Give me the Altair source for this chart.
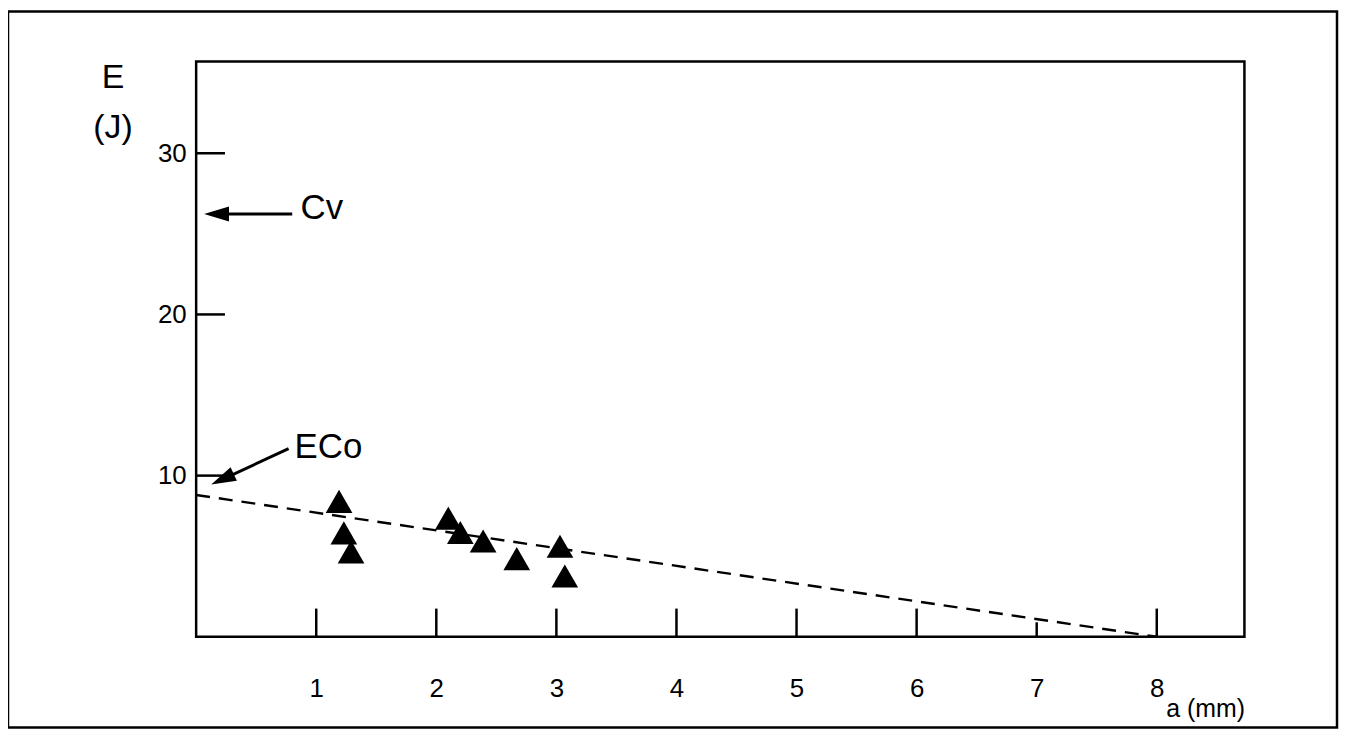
import altair as alt
import pandas as pd

# Measured data (a in mm, E in J)
pts_a = [1.19, 1.23, 1.29, 2.10, 2.20, 2.39, 2.67, 3.03, 3.07]
pts_e = [8.4, 6.45, 5.27, 7.36, 6.47, 5.94, 4.85, 5.62, 3.77]

# Dashed fit line
fit_a = [0.0, 8.0]
fit_e = [8.8, 0.0]

# Axis tick values
x_ticks = [1, 2, 3, 4, 5, 6, 7, 8]
y_ticks = [10, 20, 30]

# Annotations
ann_text = ["Cv", "ECo"]
ann_x = [0.87, 0.82]
ann_y = [26.6, 11.8]
# arrows: tail and head positions
arr_x1 = [0.80, 0.77]
arr_y1 = [26.23, 11.67]
arr_x2 = [0.17, 0.219]
arr_y2 = [26.23, 9.77]
arr_angle = [0, 335]

XMAX = 8.73
YMAX = 35.7
FONT = "Liberation Sans"

xs = alt.Scale(domain=[0, XMAX], nice=False, zero=False)
ys = alt.Scale(domain=[0, YMAX], nice=False, zero=False)

pts = pd.DataFrame({"a": pts_a, "e": pts_e})
fit = pd.DataFrame({"a": fit_a, "e": fit_e})
xt = pd.DataFrame({"v": x_ticks})
yt = pd.DataFrame({"v": y_ticks})
ann = pd.DataFrame({"t": ann_text, "x": ann_x, "y": ann_y})
arr = pd.DataFrame({"x1": arr_x1, "y1": arr_y1, "x2": arr_x2, "y2": arr_y2, "ang": arr_angle})

x_axis = alt.Axis(values=x_ticks, format="d", ticks=False, domain=False, grid=False,
                  labelFontSize=26, labelFont=FONT, labelColor="black",
                  labelPadding=39, labelBaseline="top",
                  title="a (mm)", titleFont=FONT, titleFontSize=25, titleFontWeight="normal",
                  titleColor="black", titleAnchor="end", titleAlign="right",
                  titleX=1053, titleY=80, titleBaseline="alphabetic")
y_axis = alt.Axis(values=y_ticks, format="d", ticks=False, domain=False, grid=False,
                  labelFontSize=26, labelFont=FONT, labelColor="black",
                  labelPadding=10,
                  title=["E", "(J)"], titleFont=FONT, titleFontSize=34, titleFontWeight="normal",
                  titleColor="black", titleAngle=0, titleAlign="center",
                  titleX=-84, titleY=26, titleBaseline="alphabetic", titleLineHeight=50)

base_pts = alt.Chart(pts).mark_point(shape="triangle-up", filled=True, color="black",
                                     size=720, opacity=1).encode(
    x=alt.X("a:Q", scale=xs, axis=x_axis),
    y=alt.Y("e:Q", scale=ys, axis=y_axis),
)

line = alt.Chart(fit).mark_line(color="black", strokeWidth=2.4, strokeDash=[14, 9]).encode(
    x=alt.X("a:Q", scale=xs), y=alt.Y("e:Q", scale=ys)
)

xtick_rules = alt.Chart(xt).transform_calculate(
    top="datum.v == 7 ? 0.9 : 1.75", bot="0"
).mark_rule(color="black", strokeWidth=2.5).encode(
    x=alt.X("v:Q", scale=xs), y=alt.Y("bot:Q", scale=ys), y2="top:Q"
)

ytick_rules = alt.Chart(yt).transform_calculate(
    left="0", right="0.24"
).mark_rule(color="black", strokeWidth=2.5).encode(
    y=alt.Y("v:Q", scale=ys), x=alt.X("left:Q", scale=xs), x2="right:Q"
)

ann_text_layer = alt.Chart(ann).mark_text(align="left", baseline="middle", fontSize=35,
                                          font=FONT, color="black").encode(
    x=alt.X("x:Q", scale=xs), y=alt.Y("y:Q", scale=ys), text="t:N"
)

arrow_lines = alt.Chart(arr).mark_rule(color="black", strokeWidth=3).encode(
    x=alt.X("x1:Q", scale=xs), y=alt.Y("y1:Q", scale=ys), x2="x2:Q", y2="y2:Q"
)

arrow_heads = alt.Chart(arr).mark_point(shape="M-1,0L1,-0.6L1,0.6Z", filled=True, color="black",
                                        size=625, opacity=1).encode(
    x=alt.X("x2:Q", scale=xs), y=alt.Y("y2:Q", scale=ys), angle=alt.Angle("ang:Q", scale=None)
)

border = alt.Chart(pts).mark_rect(fill=None, stroke="black", strokeWidth=2.5, clip=False).encode(
    x=alt.value(-189), x2=alt.value(1146), y=alt.value(-50), y2=alt.value(669)
).transform_filter("datum.a == 1.19")

chart = alt.layer(
    border, line, xtick_rules, ytick_rules, arrow_lines, arrow_heads, base_pts, ann_text_layer
).properties(
    width=1053, height=578,
    autosize=alt.AutoSizeParams(type="none"),
    padding={"left": 189, "top": 52, "right": 95, "bottom": 92},
    background="white",
).configure_view(
    stroke="black", strokeWidth=2.5, fill="white"
)

chart.save("out.html", embed_options={"renderer": "svg", "actions": False})
